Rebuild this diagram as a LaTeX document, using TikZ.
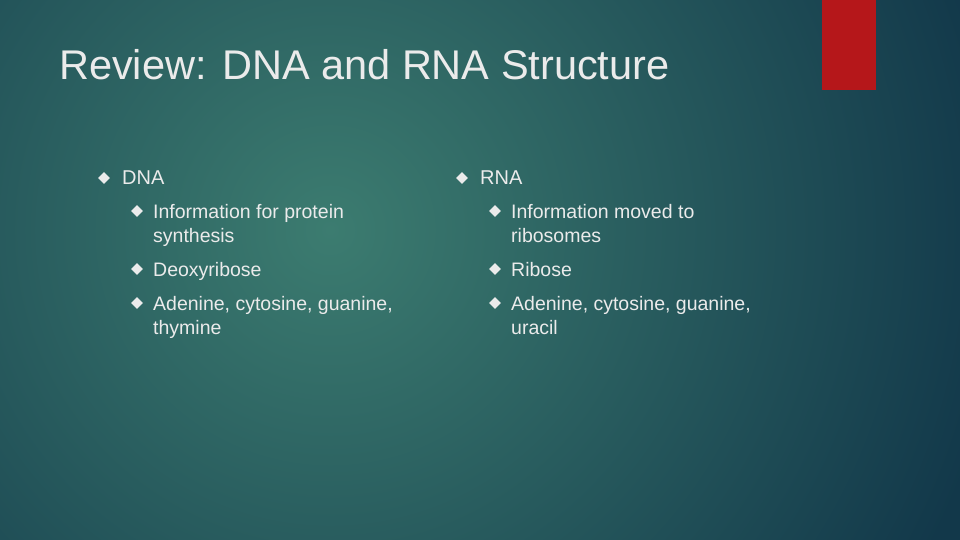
\documentclass[tikz,border=0pt]{standalone}
\usepackage{fontspec}
\setmainfont{Liberation Sans}
\usetikzlibrary{positioning,shapes.geometric}
\definecolor{bgdark}{HTML}{12384A}
\definecolor{bglight}{HTML}{3C7C70}
\definecolor{slidered}{HTML}{B5171A}
\begin{document}
\begin{tikzpicture}[x=1pt,y=-1pt,
        title/.style = {anchor=base west, inner sep=0pt, text=white!92!black, font=\fontsize{41.5}{48}\selectfont},
        lone/.style  = {anchor=base west, inner sep=0pt, text=white!92!black, font=\fontsize{20}{24}\selectfont},
        ltwo/.style  = {anchor=north west, inner sep=0pt, text=white!92!black, align=left, font=\fontsize{19.5}{24}\selectfont},
        dia/.style   = {diamond, fill=white!92!black, inner sep=0pt, minimum size=12pt}
                        ]
\useasboundingbox (0,0) rectangle (960,540);
\begin{scope}
\clip (0,0) rectangle (960,540);
\fill[bgdark] (0,0) rectangle (960,540);
\shade[inner color=bglight, outer color=bgdark] (330,230) circle (680);
\end{scope}
\fill[slidered] (822,0) rectangle (876,90);
\node (ttl) [title] at (59,80) {Review: DNA and RNA Structure};
% DNA column
\node (bdna) [dia] at (104,178) {};
\node (dna)  [lone] at (122,185) {DNA};
\node (b1) [dia] at (137,211) {};
\node (d1) [ltwo] at (153,204) {Information for protein\\synthesis};
\node (b2) [dia] at (137,269) {};
\node (d2) [ltwo] at (153,262) {Deoxyribose};
\node (b3) [dia] at (137,303) {};
\node (d3) [ltwo] at (153,296) {Adenine, cytosine, guanine,\\thymine};
% RNA column
\node (brna) [dia] at (462,178) {};
\node (rna)  [lone] at (480,185) {RNA};
\node (c1) [dia] at (495,211) {};
\node (r1) [ltwo] at (511,204) {Information moved to\\ribosomes};
\node (c2) [dia] at (495,269) {};
\node (r2) [ltwo] at (511,262) {Ribose};
\node (c3) [dia] at (495,303) {};
\node (r3) [ltwo] at (511,296) {Adenine, cytosine, guanine,\\uracil};
\end{tikzpicture}
\end{document}
